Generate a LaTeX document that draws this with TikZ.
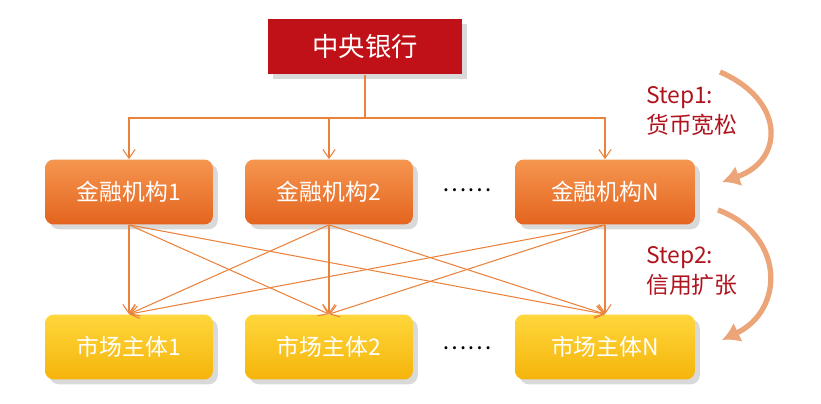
\documentclass[tikz,border=0pt]{standalone}
\usepackage{fontspec}
\setmainfont{Noto Sans CJK SC}
\usetikzlibrary{positioning,shadows}
\definecolor{bankred}{RGB}{192,16,24}
\definecolor{orgtop}{RGB}{245,150,80}
\definecolor{orgbot}{RGB}{228,100,30}
\definecolor{yeltop}{RGB}{255,215,60}
\definecolor{yelbot}{RGB}{245,180,10}
\definecolor{linkorange}{RGB}{235,130,60}
\definecolor{steparrow}{RGB}{235,165,120}
\definecolor{steptext}{RGB}{175,20,30}
\tikzset{
  bankbox/.style={rectangle, fill=bankred, text=white, minimum width=3.88cm, minimum height=1.1cm, font=\fontsize{15}{18}\selectfont, drop shadow={opacity=0.3}},
  instbox/.style={rectangle, rounded corners=5pt, top color=orgtop, bottom color=orgbot, text=white, minimum width=3.36cm, minimum height=1.3cm, font=\fontsize{13}{16}\selectfont, drop shadow={opacity=0.3}},
  firmbox/.style={rectangle, rounded corners=5pt, top color=yeltop, bottom color=yelbot, text=white, minimum width=3.36cm, minimum height=1.3cm, font=\fontsize{13}{16}\selectfont, drop shadow={opacity=0.3}},
  link/.style={draw=linkorange, line width=0.6pt, -{Straight Barb[length=5pt,width=7pt]}},
  steplabel/.style={text=steptext, align=left, font=\fontsize{13}{17}\selectfont},
  stepcurve/.style={draw=steparrow, line width=3pt, -{Latex[length=10pt,width=12pt]}}
}
\usetikzlibrary{arrows.meta}
\begin{document}
\begin{tikzpicture}[x=0.02cm,y=-0.02cm]
  \useasboundingbox (0,0) rectangle (821,404);

  \node[bankbox] (cb) at (365,47) {中央银行};

  \node[instbox] (f1) at (129,192) {金融机构1};
  \node[instbox] (f2) at (329,192) {金融机构2};
  \node[instbox, minimum width=3.6cm] (fn) at (605,192) {金融机构N};
  \node (fdots) at (467,190) {\fontsize{13}{16}\selectfont ……};

  \node[firmbox] (m1) at (129,347) {市场主体1};
  \node[firmbox] (m2) at (329,347) {市场主体2};
  \node[firmbox, minimum width=3.6cm] (mn) at (605,347) {市场主体N};
  \node (mdots) at (467,348) {\fontsize{13}{16}\selectfont ……};

  % central bank to institutions
  \coordinate (split) at (365,118);
  \draw[draw=linkorange, line width=0.6pt] (cb.south) -- (split);
  \draw[link] (split) -| (f1.north);
  \draw[link] (split) -| (f2.north);
  \draw[link] (split) -| (fn.north);

  % institutions to market entities
  \foreach \f in {f1,f2,fn}
    \foreach \m in {m1,m2,mn}
      \draw[link] (\f.south) -- (\m.north);

  % steps
  \node[steplabel, anchor=north west] (s1) at (640,80) {Step1:\\货币宽松};
  \node[steplabel, anchor=north west] (s2) at (640,240) {Step2:\\信用扩张};
  \coordinate (a1) at (720,72);
  \coordinate (b1) at (722,182);
  \coordinate (a2) at (718,210);
  \coordinate (b2) at (722,340);
  \draw[stepcurve] (a1) .. controls (785,100) and (785,160) .. (b1);
  \draw[stepcurve] (a2) .. controls (785,235) and (785,310) .. (b2);
\end{tikzpicture}
\end{document}
